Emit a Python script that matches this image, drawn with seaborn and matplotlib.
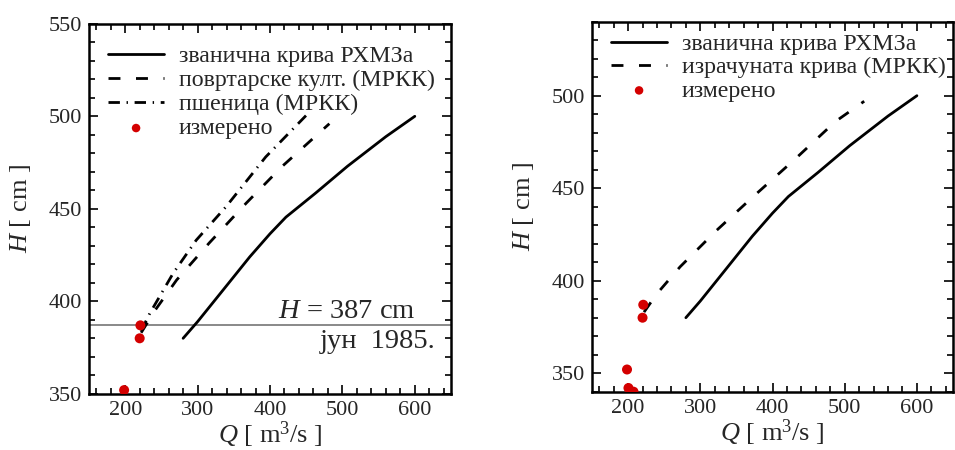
import matplotlib
matplotlib.use("Agg")
import matplotlib.pyplot as plt
import seaborn as sns
from matplotlib.ticker import MultipleLocator

# ---------------- data ----------------
official_q = [280, 300, 335, 372, 400, 422, 463, 507, 560, 600]
official_h = [380, 389, 406, 424, 436.5, 445.5, 458.5, 473, 489, 500]

veg_q = [222, 241, 271, 316, 367, 417, 482]
veg_h = [383, 395, 411.5, 431.5, 453, 473, 496]

wheat_q = [222, 234, 266, 298, 339, 394, 450]
wheat_h = [384, 393.5, 415, 433, 451, 478, 500.5]

calc_q = [222, 240, 272, 322, 372, 432, 487, 527]
calc_h = [383, 393, 407.5, 427, 445, 466, 486, 497]

meas_q = [221, 220, 198.5, 200.5, 207.5]
meas_h = [387, 380, 352, 342, 340]

ref_level = 387

lab_official = "званична крива РХМЗа"
lab_veg = "повртарске култ. (МРКК)"
lab_wheat = "пшеница (МРКК)"
lab_calc = "израчуната крива (МРКК)"
lab_meas = "измерено"

x_ticks = [200, 300, 400, 500, 600]
y_ticks_left = [350, 400, 450, 500, 550]
y_ticks_right = [350, 400, 450, 500]

# ---------------- style ----------------
sns.set_theme(style="ticks")
plt.rcParams["font.family"] = ["Liberation Serif", "DejaVu Serif"]
plt.rcParams["mathtext.fontset"] = "custom"
plt.rcParams["mathtext.rm"] = "Liberation Serif"
plt.rcParams["mathtext.it"] = "Liberation Serif:italic"

RED = "#d40000"
LW = 2.0
DASH = (0, (4.3, 5.6))
DASHDOT = (0, (4.1, 2.4, 0.5, 2.4))
LEG_FS = 17.2

fig = plt.figure(figsize=(9.55, 4.5), dpi=100)
W, H = 955.0, 450.0
ax1 = fig.add_axes([89 / W, 1 - 393.8 / H, (451 - 89) / W, (393.8 - 23.8) / H])
ax2 = fig.add_axes([592 / W, 1 - 391.7 / H, (953 - 592) / W, (391.7 - 21.7) / H])


def style_axes(ax, ylim, yticks):
    ax.set_xlim(150, 650)
    ax.set_ylim(*ylim)
    ax.set_xticks(x_ticks)
    ax.set_yticks(yticks)
    ax.xaxis.set_minor_locator(MultipleLocator(20))
    ax.yaxis.set_minor_locator(MultipleLocator(10))
    ax.tick_params(which="both", direction="in", top=True, right=True,
                   color="black", width=1.2)
    ax.tick_params(which="major", length=6.5, labelsize=16, pad=5)
    ax.tick_params(which="minor", length=4)
    for s in ax.spines.values():
        s.set_linewidth(1.8)
        s.set_color("black")
        s.set_visible(True)
    ax.set_xlabel("$Q$ [ m$^3$/s ]", fontsize=19)
    ax.set_ylabel("$H$ [ cm ]", fontsize=19)
    ax.yaxis.set_label_coords(-56 / 362, 0.5)
    ax.xaxis.label.set_va("baseline")
    ax.xaxis.set_label_coords(0.5, -(443 - 393.8) / 370)


# ---------------- left panel ----------------
sns.lineplot(x=official_q, y=official_h, ax=ax1, color="black", lw=LW,
             label=lab_official)
sns.lineplot(x=veg_q, y=veg_h, ax=ax1, color="black", lw=LW,
             linestyle=DASH, label=lab_veg)
sns.lineplot(x=wheat_q, y=wheat_h, ax=ax1, color="black", lw=LW,
             linestyle=DASHDOT, label=lab_wheat)
sns.scatterplot(x=meas_q, y=meas_h, ax=ax1, color=RED, s=52,
                edgecolor="none", label=lab_meas, zorder=3)
ax1.axhline(ref_level, color="#808080", lw=1.3, zorder=1)
style_axes(ax1, (350, 550), y_ticks_left)
ax1.text(0.9006, 0.205, "$H$ = 387 cm", transform=ax1.transAxes,
         ha="right", va="baseline", fontsize=20.5)
ax1.text(0.956, 0.124, "јун  1985.", transform=ax1.transAxes,
         ha="right", va="baseline", fontsize=20.5)
ax1.legend(loc="upper left", bbox_to_anchor=(19 / 362, 0.942), frameon=False,
           fontsize=LEG_FS, borderpad=0, borderaxespad=0, handlelength=2.35,
           handletextpad=0.62, labelspacing=0.1, markerscale=0.85)

# ---------------- right panel ----------------
sns.lineplot(x=official_q, y=official_h, ax=ax2, color="black", lw=LW,
             label=lab_official)
sns.lineplot(x=calc_q, y=calc_h, ax=ax2, color="black", lw=LW,
             linestyle=DASH, label=lab_calc)
sns.scatterplot(x=meas_q, y=meas_h, ax=ax2, color=RED, s=52,
                edgecolor="none", label=lab_meas, zorder=3)
style_axes(ax2, (340, 540), y_ticks_right)
ax2.legend(loc="upper left", bbox_to_anchor=(19 / 361, 0.969), frameon=False,
           fontsize=LEG_FS, borderpad=0, borderaxespad=0, handlelength=2.35,
           handletextpad=0.62, labelspacing=0.07, markerscale=0.85)

fig.savefig("out.png", dpi=100)
